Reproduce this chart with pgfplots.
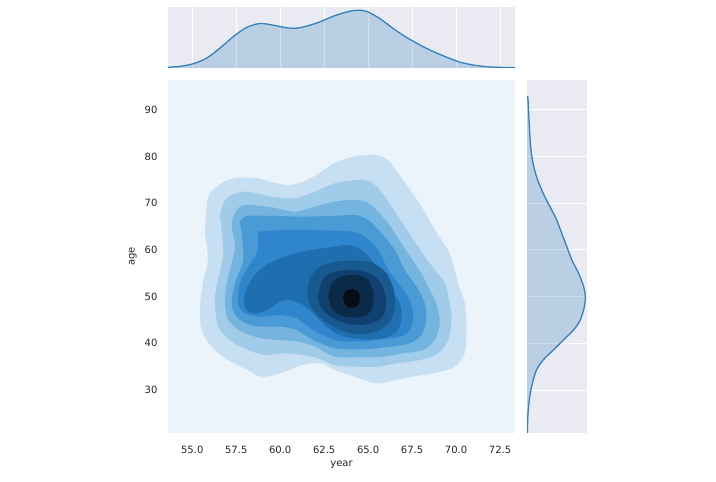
\documentclass[border=0pt]{standalone}
\usepackage{pgfplots}
\pgfplotsset{compat=1.18}
\usepackage{fontspec}
\setmainfont{DejaVu Sans}
\definecolor{bgc}{HTML}{EBF3FB}
\definecolor{Lone}{HTML}{C6DFF2}
\definecolor{Ltwo}{HTML}{A0CBE9}
\definecolor{Lthree}{HTML}{76B4E0}
\definecolor{Lfour}{HTML}{4A9AD6}
\definecolor{Lfive}{HTML}{2F86CC}
\definecolor{Lsix}{HTML}{1F6FB0}
\definecolor{Lseven}{HTML}{185A90}
\definecolor{Leight}{HTML}{104070}
\definecolor{Lnine}{HTML}{0B2A48}
\definecolor{Lten}{HTML}{050D17}
\definecolor{gridbg}{HTML}{EAEAF2}
\definecolor{kde}{HTML}{3182BD}
\definecolor{txt}{HTML}{262626}
\begin{document}
\begin{tikzpicture}
\path[use as bounding box] (0,0) rectangle (716pt,482pt);
% main joint axis
\begin{axis}[
  at={(168pt,49pt)}, anchor=south west,
  scale only axis, width=347pt, height=353pt,
  xmin=53.62, xmax=73.35, ymin=20.8, ymax=96.4,
  axis line style={draw=none},
  axis background/.style={fill=bgc},
  xtick={55,57.5,60,62.5,65,67.5,70,72.5},
  xticklabels={55.0,57.5,60.0,62.5,65.0,67.5,70.0,72.5},
  ytick={30,40,50,60,70,80,90},
  yticklabels={30,40,50,60,70,80,90},
  major tick length=0pt,
  tick label style={font=\fontsize{10}{12}\selectfont, text=txt},
  xticklabel style={yshift=-10pt},
  yticklabel style={xshift=-7pt},
  xlabel={year}, ylabel={age},
  label style={font=\fontsize{10}{12}\selectfont, text=txt},
  xlabel style={at={(axis description cs:0.5,-0.09)}, anchor=center},
  ylabel style={at={(axis description cs:-0.101,0.5)}, anchor=center},
  clip=true,
]
\addplot[fill=Lone, draw=none, smooth, tension=0.5] coordinates {
(55.72,63.64) (55.91,71.42) (56.67,74.29) (57.43,75.37) (58.56,75.43) (59.70,74.36) (60.65,73.93) (61.78,75.43) (63.11,78.64) (64.24,80.0) (65.38,80.36) (66.12,79.29) (66.69,76.50) (67.26,73.57) (68.03,69.28) (68.79,64.29) (69.53,60.0) (69.93,55.72) (70.10,52.93) (70.49,48.65) (70.59,42.86) (70.49,37.93) (69.93,35.0) (68.79,33.65) (67.47,32.85) (66.12,31.78) (65.38,31.44) (64.24,32.85) (63.11,34.29) (62.35,35.72) (61.22,35.36) (60.08,33.65) (58.94,32.85) (58.16,34.29) (57.03,36.43) (56.10,39.28) (55.53,42.86) (55.44,47.85) (55.61,52.93) (55.89,57.86) (55.72,63.64)
} -- cycle;
\addplot[fill=Ltwo, draw=none, smooth, tension=0.5] coordinates {
(56.57,67.14) (56.76,70.0) (57.24,71.79) (57.99,72.50) (58.85,72.0) (59.51,71.43) (60.84,71.07) (61.97,72.50) (63.11,74.29) (64.05,74.86) (64.81,75.0) (65.38,73.93) (65.95,71.43) (66.71,67.14) (67.46,62.86) (68.22,58.57) (68.79,55.71) (69.36,52.86) (69.64,48.57) (69.74,45.0) (69.55,40.71) (68.98,37.86) (67.94,36.43) (66.61,35.71) (65.48,35.0) (64.34,35.0) (63.11,35.36) (61.88,37.14) (60.27,37.86) (59.13,37.50) (58.18,38.57) (57.24,40.36) (56.48,43.57) (56.29,48.57) (56.38,52.14) (56.76,59.29) (56.57,67.14)
} -- cycle;
\addplot[fill=Lthree, draw=none, smooth, tension=0.5] coordinates {
(57.52,68.57) (57.99,69.64) (59.51,69.14) (60.84,68.21) (61.97,69.29) (63.11,70.36) (64.05,70.71) (64.81,70.36) (65.38,68.93) (66.14,65.71) (66.89,61.43) (67.65,57.14) (68.13,54.29) (68.41,52.14) (68.88,48.57) (69.07,44.29) (68.79,40.71) (68.13,38.57) (66.99,37.86) (65.85,37.14) (64.34,37.0) (63.11,37.14) (61.97,39.29) (61.02,40.36) (59.98,40.71) (58.94,41.07) (57.80,42.50) (57.05,45.0) (56.86,48.57) (56.95,52.86) (57.24,57.14) (57.43,60.71) (57.24,65.71) (57.52,68.57)
} -- cycle;
\addplot[fill=Lfour, draw=none, smooth, tension=0.5] coordinates {
(57.71,66.07) (58.09,67.29) (59.60,67.29) (61.12,67.14) (63.11,67.29) (64.24,67.50) (65.00,66.43) (65.76,63.57) (66.52,60.0) (67.08,55.71) (67.75,52.14) (68.22,48.57) (68.31,45.0) (68.03,41.79) (67.37,40.0) (66.23,39.29) (64.72,38.71) (63.11,38.93) (61.88,40.71) (60.93,42.86) (60.08,43.57) (59.13,43.57) (58.28,43.93) (57.52,45.71) (57.24,48.57) (57.43,52.86) (57.90,57.86) (57.80,63.57) (57.71,66.07)
} -- cycle;
\addplot[fill=Lfive, draw=none, smooth, tension=0.5] coordinates {
(58.75,63.93) (60.55,64.29) (63.11,64.14) (64.05,63.93) (64.81,62.86) (65.57,60.0) (66.14,55.71) (66.71,52.86) (67.37,49.29) (67.56,45.71) (67.37,42.86) (66.80,41.43) (65.48,40.71) (64.34,40.36) (63.11,40.71) (61.88,42.86) (60.93,45.36) (59.98,46.07) (58.94,45.71) (57.99,46.43) (57.61,48.57) (57.71,52.86) (58.18,56.43) (58.66,59.29) (58.75,62.86) (58.75,63.93)
} -- cycle;
\addplot[fill=Lsix, draw=none, smooth, tension=0.5] coordinates {
(57.99,50.71) (58.47,54.29) (59.22,56.79) (60.36,58.71) (61.40,59.79) (62.43,60.36) (63.11,60.71) (63.86,61.07) (64.62,60.0) (65.19,57.86) (65.66,55.36) (66.23,52.14) (66.80,48.57) (66.89,45.0) (66.61,42.50) (65.85,41.07) (64.72,40.86) (63.77,41.29) (63.11,42.29) (62.43,44.29) (61.88,46.43) (61.31,48.21) (60.55,49.29) (59.98,48.93) (59.41,47.50) (58.75,46.43) (58.18,46.79) (57.94,48.57) (57.99,50.71)
} -- cycle;
\addplot[fill=Lseven, draw=none, smooth, tension=0.5] coordinates {
(61.54,50.71) (61.69,53.93) (62.25,56.43) (63.20,57.50) (64.34,57.71) (65.29,57.14) (66.04,55.0) (66.46,51.43) (66.52,47.86) (66.23,44.64) (65.48,42.50) (64.43,42.0) (63.39,42.86) (62.44,45.0) (61.78,47.50) (61.54,50.71)
} -- cycle;
\addplot[fill=Leight, draw=none, smooth, tension=0.5] coordinates {
(62.16,50.0) (62.35,53.21) (62.92,55.14) (63.96,55.71) (65.0,55.14) (65.66,53.21) (66.00,50.0) (65.95,46.79) (65.57,44.86) (64.62,43.93) (63.58,44.43) (62.73,46.07) (62.29,47.86) (62.16,50.0)
} -- cycle;
\addplot[fill=Lnine, draw=none, smooth, tension=0.5] coordinates {
(62.73,50.0) (62.92,52.86) (63.49,54.29) (64.34,54.64) (65.0,53.57) (65.29,50.71) (65.25,47.86) (64.91,46.07) (64.15,45.5) (63.39,46.07) (62.92,47.50) (62.73,50.0)
} -- cycle;
\addplot[fill=Lten, draw=none, smooth, tension=0.5] coordinates {
(63.58,49.64) (63.68,51.07) (64.05,51.64) (64.40,51.21) (64.53,49.64) (64.43,48.21) (64.05,47.64) (63.70,48.21) (63.58,49.64)
} -- cycle;
\end{axis}
% top marginal
\begin{axis}[
  at={(168pt,414pt)}, anchor=south west,
  scale only axis, width=347pt, height=61pt,
  xmin=53.62, xmax=73.35, ymin=0, ymax=61.7,
  axis line style={draw=none},
  axis background/.style={fill=gridbg},
  xtick={55,57.5,60,62.5,65,67.5,70,72.5}, xticklabels={},
  ytick=\empty, major tick length=0pt,
  xmajorgrids, grid style={white, line width=1pt},
]
\addplot[fill=kde, fill opacity=0.25, draw=none] coordinates {
(53.54,0.67) (54.30,1.67) (55.06,4.33) (55.82,10) (56.57,20) (57.33,31.67) (58.09,41) (58.85,45) (59.60,43.33) (60.36,40.67) (60.93,40.33) (61.50,42.33) (62.26,46.67) (63.01,52.33) (63.77,56.67) (64.34,58.33) (64.91,57.33) (65.66,50) (66.42,40) (67.18,31) (67.94,23.33) (68.70,16.67) (69.45,11) (70.21,6) (70.97,3) (71.73,1.33) (72.48,0.67) (73.34,0.33)
} \closedcycle;
\addplot[kde, line width=1.3pt, smooth] coordinates {
(53.54,0.67) (54.30,1.67) (55.06,4.33) (55.82,10) (56.57,20) (57.33,31.67) (58.09,41) (58.85,45) (59.60,43.33) (60.36,40.67) (60.93,40.33) (61.50,42.33) (62.26,46.67) (63.01,52.33) (63.77,56.67) (64.34,58.33) (64.91,57.33) (65.66,50) (66.42,40) (67.18,31) (67.94,23.33) (68.70,16.67) (69.45,11) (70.21,6) (70.97,3) (71.73,1.33) (72.48,0.67) (73.34,0.33)
};
\end{axis}
% right marginal
\begin{axis}[
  at={(527pt,49pt)}, anchor=south west,
  scale only axis, width=60pt, height=353pt,
  xmin=0, xmax=59.3, ymin=20.8, ymax=96.4,
  axis line style={draw=none},
  axis background/.style={fill=gridbg},
  ytick={30,40,50,60,70,80,90}, yticklabels={},
  xtick=\empty, major tick length=0pt,
  ymajorgrids, grid style={white, line width=1pt},
]
\addplot[fill=kde, fill opacity=0.25, draw=none] coordinates {
(0,93.0) (0.5,93.0) (1,92.14) (2,87.86) (3.33,82.86) (5.33,79.29) (9.33,75.71) (16,72.14) (22.67,69.29) (29.33,66.43) (34.33,63.57) (39.33,60.71) (44.33,57.86) (51,55.0) (56,52.14) (57.67,50.0) (56.67,47.86) (52.67,45.0) (46,42.86) (36,40.71) (26,38.57) (16,36.43) (9.33,34.29) (5.33,31.43) (2.67,28.57) (1,25.0) (0.33,20.8) (0,20.8)
} -- cycle;
\addplot[kde, line width=1.3pt, smooth] coordinates {
(0.5,93.0) (1,92.14) (2,87.86) (3.33,82.86) (5.33,79.29) (9.33,75.71) (16,72.14) (22.67,69.29) (29.33,66.43) (34.33,63.57) (39.33,60.71) (44.33,57.86) (51,55.0) (56,52.14) (57.67,50.0) (56.67,47.86) (52.67,45.0) (46,42.86) (36,40.71) (26,38.57) (16,36.43) (9.33,34.29) (5.33,31.43) (2.67,28.57) (1,25.0) (0.33,20.8)
};
\end{axis}
\end{tikzpicture}
\end{document}
